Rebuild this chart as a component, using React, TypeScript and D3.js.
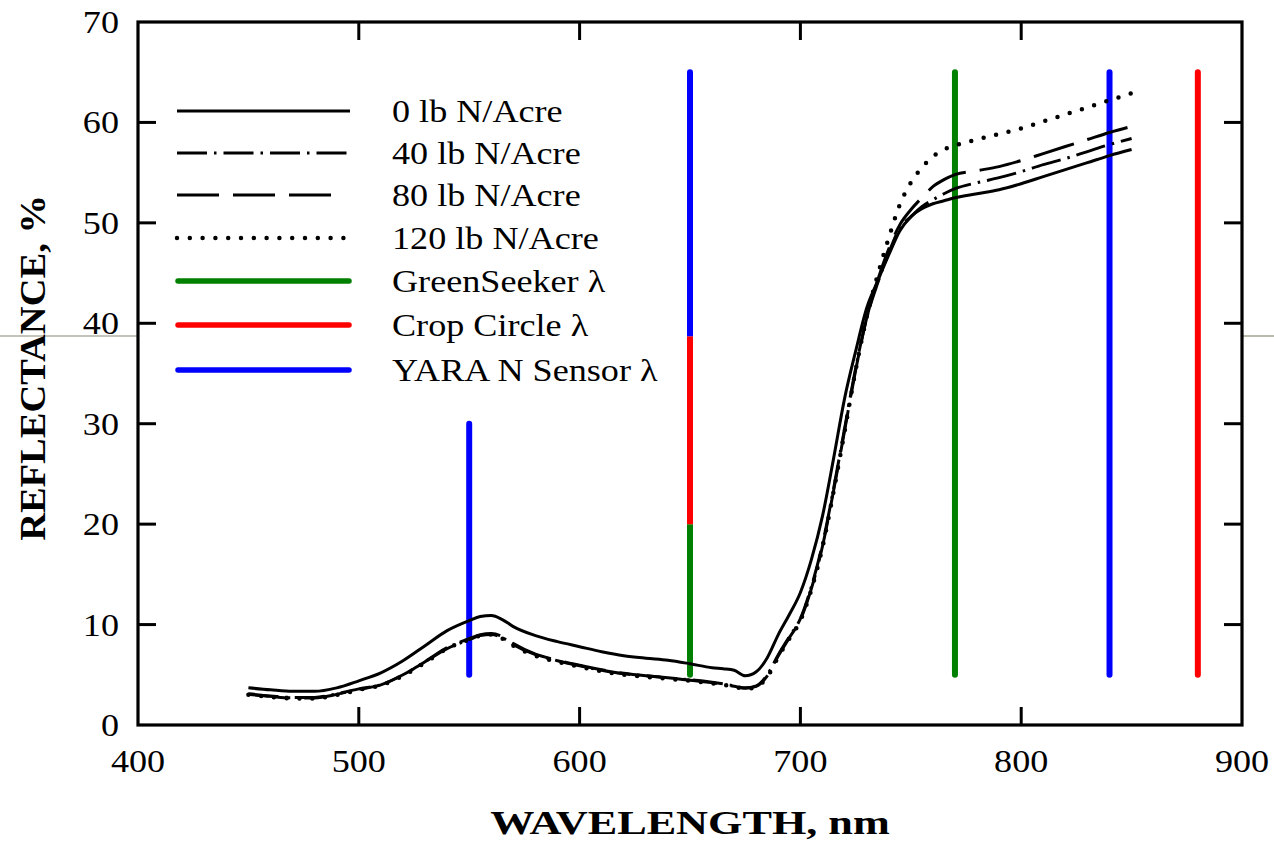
import React from "react";
import * as d3 from "d3";

const wavelengths = [450, 460, 470, 480, 490, 500, 510, 520, 530, 540, 550, 555, 560, 565, 570, 580, 590, 600, 610, 620, 630, 640, 650, 660, 665, 670, 675, 680, 685, 690, 695, 700, 705, 710, 715, 720, 725, 730, 735, 740, 745, 750, 755, 760, 765, 770, 780, 790, 800, 810, 820, 830, 840, 850];

const n0 = [3.7, 3.5, 3.35, 3.35, 3.7, 4.4, 5.2, 6.4, 7.9, 9.4, 10.4, 10.8, 10.9, 10.5, 9.8, 8.9, 8.3, 7.8, 7.3, 6.9, 6.65, 6.45, 6.1, 5.7, 5.6, 5.45, 4.9, 5.3, 6.7, 9.0, 11.0, 13.2, 16.5, 20.8, 26.5, 32.5, 37.2, 41.5, 44.2, 46.8, 49.2, 50.6, 51.4, 51.9, 52.2, 52.5, 52.9, 53.3, 53.9, 54.6, 55.3, 56.0, 56.7, 57.3];
const n40 = [3.1, 2.9, 2.75, 2.75, 3.1, 3.6, 4.0, 5.0, 6.3, 7.6, 8.5, 8.9, 9.0, 8.7, 8.0, 7.0, 6.4, 5.9, 5.45, 5.1, 4.9, 4.7, 4.5, 4.25, 4.1, 3.9, 3.7, 3.9, 5.0, 7.0, 8.8, 10.6, 13.8, 18.0, 23.5, 29.5, 35.5, 40.5, 44.0, 47.0, 49.5, 50.6, 51.6, 52.3, 52.9, 53.4, 54.0, 54.5, 55.1, 55.8, 56.4, 57.1, 57.8, 58.4];
const n80 = [3.05, 2.85, 2.7, 2.7, 3.05, 3.55, 4.0, 5.0, 6.3, 7.7, 8.6, 9.0, 9.1, 8.8, 8.1, 7.05, 6.45, 5.95, 5.5, 5.15, 4.9, 4.7, 4.45, 4.2, 4.05, 3.85, 3.65, 3.85, 4.9, 6.9, 8.7, 10.5, 13.6, 17.8, 23.3, 29.3, 35.3, 40.5, 44.3, 47.4, 49.8, 51.3, 52.5, 53.6, 54.3, 54.8, 55.2, 55.6, 56.2, 56.9, 57.6, 58.3, 59.0, 59.6];
const n120 = [3.0, 2.8, 2.65, 2.65, 3.0, 3.5, 3.95, 4.9, 6.2, 7.6, 8.5, 8.9, 9.0, 8.6, 7.9, 6.9, 6.3, 5.8, 5.35, 5.0, 4.8, 4.6, 4.4, 4.15, 4.0, 3.8, 3.6, 3.8, 4.8, 6.8, 8.6, 10.4, 13.5, 17.7, 23.2, 29.2, 35.3, 40.6, 44.8, 48.5, 51.8, 54.0, 55.5, 56.6, 57.3, 57.7, 58.3, 58.85, 59.4, 60.1, 60.8, 61.5, 62.2, 62.9];

const seriesNames = ["0 lb N/Acre", "40 lb N/Acre", "80 lb N/Acre", "120 lb N/Acre"];
const sensorNames = ["GreenSeeker \u03bb", "Crop Circle \u03bb", "YARA N Sensor \u03bb"];
const sensorColors = ["#008000", "#ff0000", "#0000ff"];

// sensor bands: [wavelength, from %, to %, sensor index]
const bandWl = [550, 650, 650, 650, 770, 840, 880];
const bandFrom = [5, 5, 20, 38.7, 5, 5, 5];
const bandTo = [30, 20, 38.7, 65, 65, 65, 65];
const bandSensor = [2, 0, 1, 2, 0, 2, 1];

const xTicks = [400, 500, 600, 700, 800, 900];
const yTicks = [0, 10, 20, 30, 40, 50, 60, 70];

const W = 1274;
const H = 849;
const M = { left: 138, right: 1242, top: 22, bottom: 725 };
const FONT = "'Liberation Serif', 'Times New Roman', serif";
const SX = 1.13;

const dashStyles = [
  { dash: "none", width: 3, cap: "butt" },
  { dash: "30 7 2.5 7", width: 3, cap: "butt" },
  { dash: "42 14", width: 3, cap: "butt" },
  { dash: "0 12.8", width: 4.5, cap: "round" },
];

export default function App() {
  const x = d3.scaleLinear().domain([400, 900]).range([M.left, M.right]);
  const y = d3.scaleLinear().domain([0, 70]).range([M.bottom, M.top]);
  const allSeries = [n0, n40, n80, n120];
  const line = d3
    .line<number>()
    .x((_, i) => x(wavelengths[i]))
    .y((d) => y(d))
    .curve(d3.curveMonotoneX);

  const legendY = [111, 153, 195, 238, 281, 325, 370];
  const tick = 18;

  return (
    <svg width={W} height={H} style={{ position: "absolute", left: 0, top: 0, background: "#fff" }}>
      <rect x={0} y={0} width={W} height={H} fill="#fff" />
      <line x1={0} x2={M.left} y1={336} y2={336} stroke="#8a8a76" strokeWidth={1.2} />
      <line x1={M.right} x2={W} y1={336} y2={336} stroke="#8a8a76" strokeWidth={1.2} />

      {/* sensor bands */}
      {bandWl.map((wl, i) => (
        <line
          key={"b" + i}
          x1={x(wl)}
          x2={x(wl)}
          y1={y(bandFrom[i])}
          y2={y(bandTo[i])}
          stroke={sensorColors[bandSensor[i]]}
          strokeWidth={6}
          strokeLinecap={i === 1 || i === 2 || i === 3 ? "butt" : "round"}
        />
      ))}
      <line x1={x(650)} x2={x(650)} y1={y(5)} y2={y(5.01)} stroke={sensorColors[0]} strokeWidth={6} strokeLinecap="round" />
      <line x1={x(650)} x2={x(650)} y1={y(64.99)} y2={y(65)} stroke={sensorColors[2]} strokeWidth={6} strokeLinecap="round" />

      {/* spectra */}
      {allSeries.map((s, i) => (
        <path
          key={"s" + i}
          d={line(s) || ""}
          fill="none"
          stroke="#000"
          strokeWidth={dashStyles[i].width}
          strokeDasharray={dashStyles[i].dash}
          strokeLinecap={dashStyles[i].cap as any}
        />
      ))}

      {/* frame */}
      <rect x={M.left} y={M.top} width={M.right - M.left} height={M.bottom - M.top} fill="none" stroke="#000" strokeWidth={3.2} />

      {/* ticks */}
      {xTicks.slice(1, -1).map((t) => (
        <g key={"xt" + t}>
          <line x1={x(t)} x2={x(t)} y1={M.bottom} y2={M.bottom - tick} stroke="#000" strokeWidth={3} />
          <line x1={x(t)} x2={x(t)} y1={M.top} y2={M.top + tick} stroke="#000" strokeWidth={3} />
        </g>
      ))}
      {yTicks.slice(1, -1).map((t) => (
        <g key={"yt" + t}>
          <line x1={M.left} x2={M.left + tick} y1={y(t)} y2={y(t)} stroke="#000" strokeWidth={3} />
          <line x1={M.right} x2={M.right - tick} y1={y(t)} y2={y(t)} stroke="#000" strokeWidth={3} />
        </g>
      ))}

      {/* tick labels */}
      {xTicks.map((t) => (
        <text
          key={"xl" + t}
          transform={`translate(${x(t)},772) scale(${SX},1)`}
          textAnchor="middle"
          fontFamily={FONT}
          fontSize={32}
          fill="#000"
        >
          {t}
        </text>
      ))}
      {yTicks.map((t) => (
        <text
          key={"yl" + t}
          transform={`translate(119,${y(t) + 11}) scale(${SX},1)`}
          textAnchor="end"
          fontFamily={FONT}
          fontSize={32}
          fill="#000"
        >
          {t}
        </text>
      ))}

      {/* axis titles */}
      <text
        transform={`translate(${(M.left + M.right) / 2},834) scale(1.3,1)`}
        textAnchor="middle"
        fontFamily={FONT}
        fontWeight="bold"
        fontSize={34}
        fill="#000"
      >
        WAVELENGTH, nm
      </text>
      <text
        transform={`translate(45,368) rotate(-90) scale(1.1,1)`}
        textAnchor="middle"
        fontFamily={FONT}
        fontWeight="bold"
        fontSize={35}
        fill="#000"
      >
        REFLECTANCE, %
      </text>

      {/* legend */}
      {seriesNames.map((name, i) => (
        <g key={"lg" + i}>
          <line
            x1={177}
            x2={i === 2 ? 333 : 350}
            y1={legendY[i]}
            y2={legendY[i]}
            stroke="#000"
            strokeWidth={dashStyles[i].width}
            strokeDasharray={dashStyles[i].dash}
            strokeLinecap={dashStyles[i].cap as any}
          />
          <text
            transform={`translate(392,${legendY[i] + 10.5}) scale(${SX},1)`}
            fontFamily={FONT}
            fontSize={32}
            fill="#000"
          >
            {name}
          </text>
        </g>
      ))}
      {sensorNames.map((name, i) => (
        <g key={"ls" + i}>
          <line
            x1={178}
            x2={349}
            y1={legendY[4 + i]}
            y2={legendY[4 + i]}
            stroke={sensorColors[i]}
            strokeWidth={5.5}
            strokeLinecap="round"
          />
          <text
            transform={`translate(392,${legendY[4 + i] + 10.5}) scale(${SX},1)`}
            fontFamily={FONT}
            fontSize={32}
            fill="#000"
          >
            {name}
          </text>
        </g>
      ))}
    </svg>
  );
}
